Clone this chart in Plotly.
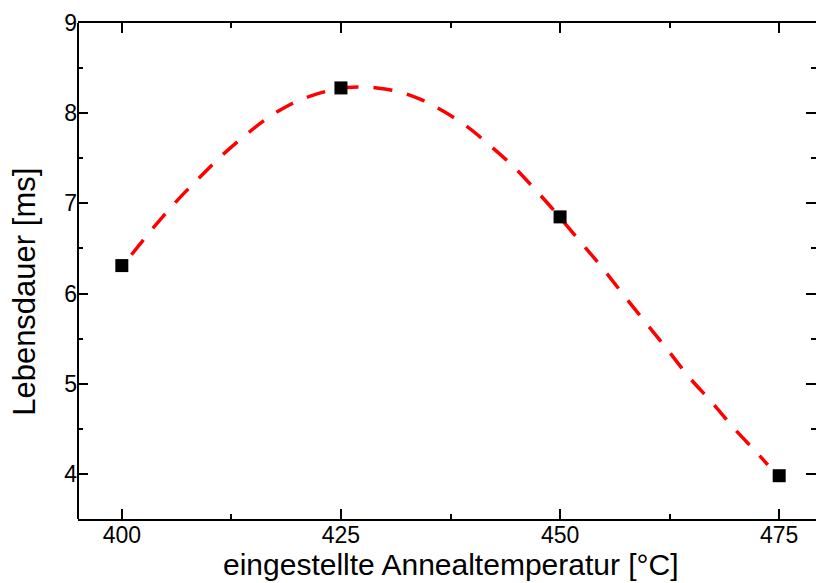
import plotly.graph_objects as go

# measured data points
temp = [400, 425, 450, 475]
lifetime = [6.31, 8.28, 6.85, 3.98]

# fit curve
fit_x = [401.1, 403.6, 406.2, 408.8, 411.4, 413.9, 416.4, 418.9, 421.5, 424.1,
         425.7, 427.1, 429.1, 431.7, 434.3, 436.8, 439.4, 441.9, 444.5, 447.0,
         449.5, 452.0, 454.7, 457.2, 459.7, 462.2, 464.7, 467.3, 469.8, 472.5, 473.7]
fit_y = [6.43, 6.73, 7.02, 7.28, 7.53, 7.74, 7.93, 8.08, 8.19, 8.26,
         8.285, 8.29, 8.28, 8.235, 8.145, 8.015, 7.85, 7.65, 7.425, 7.17,
         6.90, 6.61, 6.30, 5.99, 5.685, 5.385, 5.075, 4.795, 4.51, 4.23, 4.10]

x_ticks = [400, 425, 450, 475]
y_ticks = [4, 5, 6, 7, 8, 9]

x_title = "eingestellte Annealtemperatur [°C]"
y_title = "Lebensdauer [ms]"

font = "Liberation Sans, Arial, sans-serif"

fig = go.Figure()
fig.add_trace(go.Scatter(
    x=fit_x, y=fit_y, mode="lines",
    line=dict(color="#ff0000", width=3.5, dash="19px,15px", shape="spline"),
    hoverinfo="skip", showlegend=False))
fig.add_trace(go.Scatter(
    x=temp, y=lifetime, mode="markers",
    marker=dict(symbol="square", size=13, color="black"),
    showlegend=False))

axis_common = dict(
    showgrid=False, zeroline=False, linecolor="black", linewidth=2,
    mirror="allticks", ticks="inside", ticklen=10, tickwidth=2, tickcolor="black",
    tickfont=dict(family=font, size=23, color="black"),
)

fig.update_layout(
    width=816, height=583,
    margin=dict(l=78, r=0, t=23, b=64),
    paper_bgcolor="white", plot_bgcolor="white",
    font=dict(family=font, color="black"),
    xaxis=dict(
        **axis_common, showline=True, range=[395, 479.2], tickvals=x_ticks,
        ticklabelstandoff=-6,
        minor=dict(ticks="inside", ticklen=5, tickwidth=2, tickcolor="black", dtick=12.5, tick0=400),
    ),
    yaxis=dict(
        **axis_common, showline=False, range=[3.5, 9], tickvals=y_ticks,
        minor=dict(ticks="inside", ticklen=5, tickwidth=2, tickcolor="black", dtick=0.5, tick0=4),
    ),
    shapes=[dict(type="line", xref="paper", yref="paper", x0=0, x1=0, y0=0, y1=1,
                 line=dict(color="black", width=2))],
    annotations=[
        dict(text=x_title, xref="paper", yref="paper", x=0.505, y=-0.092,
             xanchor="center", yanchor="middle", showarrow=False,
             font=dict(family=font, size=30, color="black")),
        dict(text=y_title, xref="paper", yref="paper", x=(25 - 78) / 738, y=0.458,
             xanchor="center", yanchor="middle", textangle=-90, showarrow=False,
             font=dict(family=font, size=31, color="black")),
    ],
)

fig.write_html("out.html")
